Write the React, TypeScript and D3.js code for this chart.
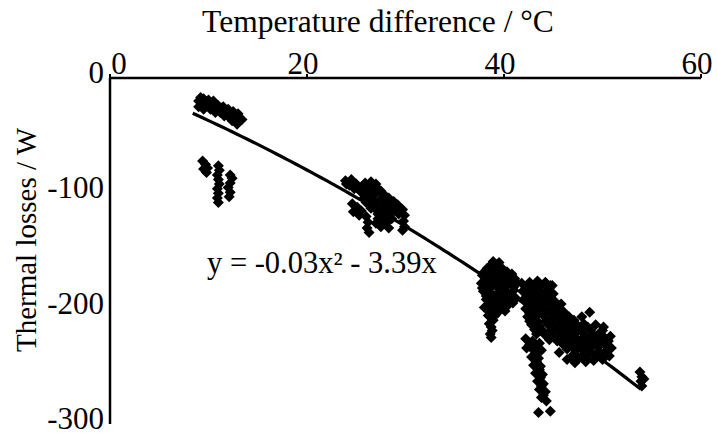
import React from 'react';
import * as d3 from 'd3';

// axis ticks
const xTicks = [0, 20, 40, 60];
const yTicks = [0, -100, -200, -300];

// trendline y = a*x^2 + b*x, drawn over the measured range
const trendCoef = [-0.03, -3.39];
const trendRange = [8.4, 54.1];

// measured points [temperature difference, thermal losses]
const clusterTopLeft: [number, number][] = [
  [9.0, -20], [9.5, -18], [10.0, -19], [9.3, -23], [9.8, -24], [10.3, -22], [10.8, -23],
  [9.5, -27], [10.2, -27], [10.8, -27], [11.3, -26], [11.8, -28], [11.2, -30], [11.7, -31],
  [12.2, -30], [12.6, -32], [12.1, -34], [12.7, -35], [13.1, -34], [12.4, -37], [13.0, -38],
  [10.7, -30], [9.0, -25], [9.2, -17], [10.5, -20], [11.0, -24], [11.5, -25], [12.0, -27],
  [12.5, -29], [13.0, -31], [13.4, -36], [9.7, -21], [10.4, -25], [11.6, -33], [12.9, -40],
];

const clusterLowLeft: [number, number][] = [
  [9.4, -72], [9.7, -75], [9.5, -79], [9.8, -82], [9.9, -78],
  [11.0, -76], [11.1, -80], [10.9, -84], [11.0, -88], [11.1, -92], [10.9, -96], [11.0, -100],
  [10.9, -104], [11.0, -108],
  [12.2, -84], [12.4, -87], [12.2, -91], [12.0, -95], [12.2, -99], [12.1, -103],
];

const clusterMiddle: [number, number][] = [
  [23.9, -89], [24.5, -88], [24.3, -93], [25.0, -92], [24.8, -96],
  [25.9, -91], [26.5, -90], [27.0, -92], [26.3, -95], [27.2, -96],
  [25.5, -99], [26.2, -100], [27.0, -100], [27.8, -101], [28.3, -104], [25.8, -104],
  [26.6, -105], [27.4, -106], [28.0, -109], [28.6, -110], [26.9, -110], [27.6, -113],
  [28.3, -115], [28.9, -113], [27.2, -118], [28.0, -120], [28.6, -122], [27.7, -125],
  [24.6, -109], [25.1, -112], [24.7, -116], [25.3, -119],
  [26.0, -120], [26.2, -125], [26.1, -130], [26.3, -134],
  [29.7, -114], [29.9, -119], [29.8, -124], [29.9, -129], [29.7, -132],
  [27.5, -129], [28.3, -130],
  [25.2, -95], [25.6, -94], [26.8, -97], [27.5, -98], [28.0, -103], [28.8, -107], [29.2, -110],
  [26.0, -108], [26.5, -113], [27.0, -114], [27.9, -117], [28.6, -117], [27.2, -122],
  [27.0, -126], [28.1, -125], [25.5, -115], [29.3, -118], [24.0, -92], [25.9, -97],
];

const clusterRightA: [number, number][] = [
  [38.9, -159], [39.5, -160], [38.3, -165], [39.0, -166], [39.8, -165],
  [37.8, -171], [38.5, -172], [39.3, -172], [40.1, -171], [40.8, -170],
  [37.7, -178], [38.4, -179], [39.2, -179], [40.0, -178], [40.8, -177], [41.3, -178],
  [37.9, -185], [38.6, -186], [39.4, -186], [40.2, -185], [41.0, -184],
  [38.2, -192], [38.9, -193], [39.7, -192], [40.5, -192], [41.2, -191],
  [38.0, -199], [38.7, -200], [39.5, -199], [40.3, -198],
  [38.4, -206], [39.1, -206], [38.5, -213], [38.8, -219], [38.7, -225],
  [39.2, -162], [38.7, -162],
  [38.0, -168], [38.7, -169], [39.5, -169], [40.3, -168],
  [38.1, -175], [38.8, -175], [39.6, -175], [40.4, -174], [41.1, -174],
  [37.8, -182], [38.6, -182], [39.4, -182], [40.2, -181], [41.0, -181],
  [38.2, -189], [39.0, -189], [39.8, -189], [40.6, -188],
  [38.4, -196], [39.2, -196], [40.0, -195], [40.9, -195],
  [38.6, -203], [39.4, -203], [40.1, -202],
  [38.9, -210], [38.7, -216], [38.6, -222],
];

const clusterRightB: [number, number][] = [
  [41.8, -178], [42.6, -177], [43.4, -176], [44.2, -177], [44.9, -180],
  [41.9, -185], [42.7, -185], [43.5, -184], [44.3, -185], [45.0, -187],
  [42.0, -192], [42.8, -193], [43.6, -192], [44.4, -192], [45.2, -194], [45.8, -196],
  [42.2, -200], [43.0, -200], [43.8, -199], [44.6, -200], [45.4, -201], [46.1, -203],
  [42.4, -207], [43.2, -207], [44.0, -206], [44.8, -208], [45.6, -208], [46.4, -210], [47.1, -210],
  [42.8, -214], [43.6, -215], [44.6, -215], [45.4, -216], [46.2, -217], [47.0, -218], [47.8, -217], [48.5, -216],
  [43.3, -222], [44.2, -223], [45.0, -224], [45.8, -224], [46.6, -225], [47.4, -226], [48.2, -224], [49.0, -222], [49.7, -221],
  [46.0, -231], [46.8, -232], [47.6, -233], [48.4, -231], [49.2, -230], [50.0, -229], [50.6, -228],
  [45.6, -238], [47.2, -239], [48.0, -240], [48.8, -238], [49.6, -237], [50.4, -236], [50.9, -234],
  [46.4, -244], [47.2, -247], [48.3, -246], [49.1, -245], [50.0, -244], [50.7, -241],
  [48.7, -203], [47.9, -207], [47.5, -216], [46.0, -203], [44.7, -180], [50.0, -219],
  [42.2, -181], [43.0, -181], [43.8, -180], [44.6, -182],
  [42.3, -189], [43.1, -189], [43.9, -188], [44.7, -190],
  [42.4, -196], [43.2, -196], [44.0, -196], [44.8, -197], [45.5, -199],
  [42.6, -204], [43.4, -203], [44.2, -203], [45.0, -205], [45.8, -206], [46.6, -207],
  [42.6, -211], [43.4, -211], [44.2, -211], [45.0, -212], [45.8, -212], [46.6, -214], [47.4, -214], [48.1, -213],
  [43.1, -218], [43.9, -219], [44.8, -219], [45.6, -220], [46.4, -221], [47.2, -222], [48.0, -221], [48.8, -219],
  [49.3, -214], [50.1, -216],
  [44.6, -227], [45.4, -228], [46.2, -228], [47.0, -229], [47.8, -229], [48.6, -227], [49.4, -226], [50.2, -225], [50.8, -224],
  [46.4, -235], [47.2, -236], [48.0, -236], [48.8, -234], [49.6, -233], [50.4, -232],
  [46.8, -242], [47.6, -243], [48.4, -243], [49.4, -241], [50.2, -240],
];

const clusterTail: [number, number][] = [
  [42.2, -226], [42.9, -228], [43.6, -230], [42.3, -234], [43.0, -236], [43.8, -236],
  [42.8, -242], [43.5, -243], [43.0, -249], [43.7, -250], [43.2, -256], [43.9, -257],
  [43.4, -263], [44.0, -265], [43.6, -270], [44.2, -272], [43.8, -277], [44.3, -280],
  [43.5, -290], [44.7, -289],
  [42.6, -231], [43.3, -233], [43.2, -239], [43.3, -246], [43.6, -253], [43.7, -260],
  [43.8, -267], [44.0, -275],
];

const clusterEnd: [number, number][] = [
  [53.8, -255], [54.0, -259], [53.9, -263], [54.0, -267], [54.2, -261],
];

const W = 717;
const H = 435;
const font = '"Liberation Serif", "DejaVu Serif", serif';

export default function App() {
  const x = d3.scaleLinear().domain([0, 60]).range([110, 701]);
  const y = d3.scaleLinear().domain([0, -300]).range([78, 424]);

  const points = [
    ...clusterTopLeft, ...clusterLowLeft, ...clusterMiddle,
    ...clusterRightA, ...clusterRightB, ...clusterTail, ...clusterEnd,
  ];

  const trendX = d3.range(trendRange[0], trendRange[1] + 0.001, 0.5);
  const trendLine = d3.line<number>()
    .x(d => x(d))
    .y(d => y(trendCoef[0] * d * d + trendCoef[1] * d))(trendX) || '';

  const diamond = (cx: number, cy: number, r: number) =>
    `M${cx},${cy - r}L${cx + r},${cy}L${cx},${cy + r}L${cx - r},${cy}Z`;

  const txt = { fontFamily: font, fill: '#000' };

  return (
    <svg width={W} height={H} style={{ position: 'fixed', left: 0, top: 0, background: '#fff', fontFamily: font }}>
      <rect width={W} height={H} fill="#fff" />

      {/* points */}
      <g fill="#000">
        {points.map((d, i) => (
          <path key={i} d={diamond(x(d[0]), y(d[1]), 5.5)} />
        ))}
      </g>

      {/* trendline */}
      <path d={trendLine} fill="none" stroke="#000" strokeWidth={3.2} />

      {/* x axis on top */}
      <line x1={x(0)} x2={x(60)} y1={y(0)} y2={y(0)} stroke="#000" strokeWidth={2.5} />
      {xTicks.map(t => (
        <g key={t}>
          <line x1={x(t)} x2={x(t)} y1={y(0)} y2={y(0) - 4} stroke="#000" strokeWidth={2} />
          <text style={txt} x={x(t) + (t === 0 ? 9 : -4)} y={y(0) - 4} fontSize={31} textAnchor="middle">{t}</text>
        </g>
      ))}
      <text style={txt} x={378} y={32} fontSize={31.5} textAnchor="middle">Temperature difference / °C</text>

      {/* y axis */}
      <line x1={x(0)} x2={x(0)} y1={y(0)} y2={y(-300)} stroke="#000" strokeWidth={2.5} />
      {yTicks.map(t => (
        <text key={t} style={txt} x={104} y={y(t) + 5} fontSize={31} textAnchor="end">{t}</text>
      ))}
      <text style={txt} transform={`translate(36,240) rotate(-90)`} fontSize={29} textAnchor="middle">Thermal losses / W</text>

      {/* equation */}
      <text style={txt} x={207} y={273} fontSize={30.5}>y = -0.03x² - 3.39x</text>
    </svg>
  );
}
